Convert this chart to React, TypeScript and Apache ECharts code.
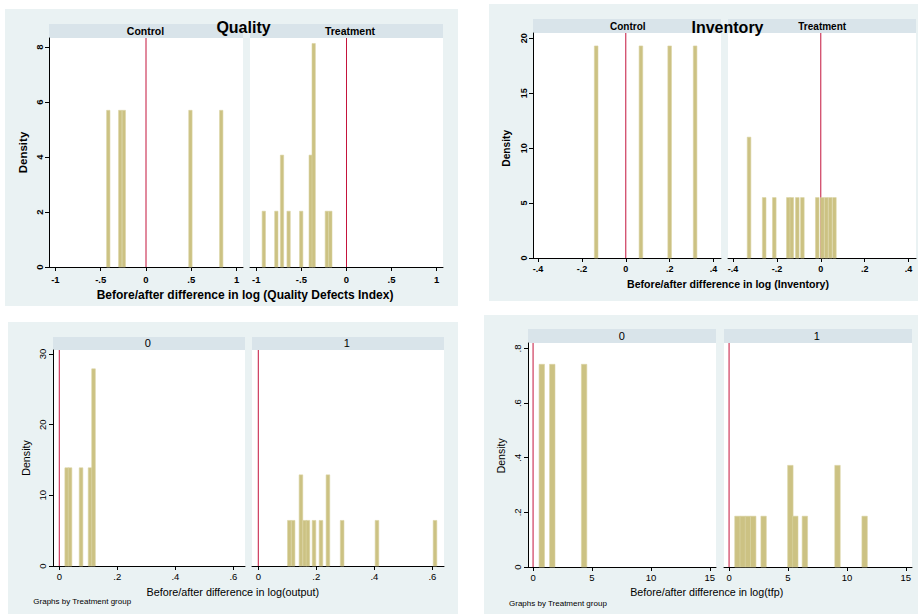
import React, { useEffect, useRef } from "react";
import * as echarts from "echarts";

// ---------- data ----------
// Quality: before/after difference in log (Quality Defects Index)
const qualityControlX = [-0.416, -0.284, -0.245, 0.49, 0.83];
const qualityControlY = [5.7, 5.7, 5.7, 5.7, 5.7];
const qualityTreatX = [-0.917, -0.778, -0.715, -0.642, -0.502, -0.397, -0.364, -0.218, -0.179];
const qualityTreatY = [2.03, 2.03, 4.07, 2.03, 2.03, 4.07, 8.13, 2.03, 2.03];
const qualityTicksX = [-1, -0.5, 0, 0.5, 1];
const qualityTicksY = [0, 2, 4, 6, 8];

// Inventory
const inventoryControlX = [-0.135, 0.069, 0.2, 0.316];
const inventoryControlY = [19.3, 19.3, 19.3, 19.3];
const inventoryTreatX = [-0.327, -0.258, -0.212, -0.148, -0.132, -0.107, -0.084, -0.016, 0.007, 0.025, 0.043, 0.062];
const inventoryTreatY = [11.0, 5.5, 5.5, 5.5, 5.5, 5.5, 5.5, 5.5, 5.5, 5.5, 5.5, 5.5];
const inventoryTicksX = [-0.4, -0.2, 0, 0.2, 0.4];
const inventoryTicksY = [0, 5, 10, 15, 20];

// Output
const outputControlX = [0.0255, 0.037, 0.075, 0.106, 0.118];
const outputControlY = [13.9, 13.9, 13.9, 13.9, 27.9];
const outputTreatX = [0.107, 0.12, 0.147, 0.16, 0.171, 0.192, 0.216, 0.24, 0.289, 0.409, 0.609];
const outputTreatY = [6.45, 6.45, 12.9, 6.45, 6.45, 6.45, 6.45, 12.9, 6.45, 6.45, 6.45];
const outputTicksX = [0, 0.2, 0.4, 0.6];
const outputTicksY = [0, 10, 20, 30];

// TFP
const tfpControlX = [0.74, 1.63, 4.33];
const tfpControlY = [0.742, 0.742, 0.742];
const tfpTreatX = [0.71, 1.16, 1.6, 2.05, 2.93, 5.2, 5.62, 6.43, 9.2, 11.5];
const tfpTreatY = [0.186, 0.186, 0.186, 0.186, 0.186, 0.372, 0.186, 0.186, 0.372, 0.186];
const tfpTicksX = [0, 5, 10, 15];
const tfpTicksY = [0, 0.2, 0.4, 0.6, 0.8];

const stripLabelsNamed = ["Control", "Treatment"];
const stripLabelsCoded = ["0", "1"];
const referenceX = 0;

// ---------- styles ----------
const FONT = '"Liberation Sans", Arial, Helvetica, sans-serif';
const PANEL_BG = "#eaf2f3";
const STRIP_BG = "#d9e4ea";
const BAR_FILL = "#ccc283";
const BAR_STROKE = "#dad3a2";
const RED = "#c4143c";

const stataFmt = (v: number) => {
  if (Math.abs(v) < 1e-9) return "0";
  const s = String(+v.toFixed(4));
  return s.replace(/^(-?)0\./, "$1.");
};

type Sub = { left: number; width: number; x: number[]; y: number[]; label: string; lx: number };
type Panel = {
  bg: [number, number, number, number];
  top: number;
  height: number;
  stripTop: number;
  stripH: number;
  stripY: number;
  subs: Sub[];
  xMin: number;
  xMax: number;
  xTicks: number[];
  yMax: number;
  yTicks: number[];
  binW: number;
  bold: boolean;
  tickSize: number;
  stripSize: number;
  yLabelMargin: number;
  xLabelMargin: number;
  title?: { text: string; x: number; y: number };
  xTitle: { text: string; x: number; y: number; size: number };
  density: { x: number; y: number; size: number };
  graphsBy?: { x: number; y: number };
};

const panels: Panel[] = [
  {
    bg: [5, 9, 453, 297],
    top: 38,
    height: 229,
    stripTop: 24,
    stripH: 14,
    stripY: 31,
    subs: [
      { left: 49, width: 194, x: qualityControlX, y: qualityControlY, label: stripLabelsNamed[0], lx: 145.5 },
      { left: 250, width: 193, x: qualityTreatX, y: qualityTreatY, label: stripLabelsNamed[1], lx: 350 },
    ],
    xMin: -1.07,
    xMax: 1.07,
    xTicks: qualityTicksX,
    yMax: 8.33,
    yTicks: qualityTicksY,
    binW: 0.037,
    bold: true,
    tickSize: 9.5,
    stripSize: 10.5,
    yLabelMargin: 5,
    xLabelMargin: 7,
    title: { text: "Quality", x: 243.5, y: 27.5 },
    xTitle: { text: "Before/after difference in log (Quality Defects Index)", x: 245, y: 295, size: 12 },
    density: { x: 23, y: 152.5, size: 11.5 },
  },
  {
    bg: [489, 4, 429, 297],
    top: 33,
    height: 225,
    stripTop: 19,
    stripH: 14,
    stripY: 26,
    subs: [
      { left: 533, width: 188, x: inventoryControlX, y: inventoryControlY, label: stripLabelsNamed[0], lx: 627.8 },
      { left: 728, width: 188, x: inventoryTreatX, y: inventoryTreatY, label: stripLabelsNamed[1], lx: 822.2 },
    ],
    xMin: -0.423,
    xMax: 0.434,
    xTicks: inventoryTicksX,
    yMax: 20.48,
    yTicks: inventoryTicksY,
    binW: 0.0165,
    bold: true,
    tickSize: 9,
    stripSize: 10,
    yLabelMargin: 5,
    xLabelMargin: 6,
    title: { text: "Inventory", x: 727.5, y: 27.5 },
    xTitle: { text: "Before/after difference in log (Inventory)", x: 728, y: 284.3, size: 10.6 },
    density: { x: 506.7, y: 148.3, size: 10.2 },
  },
  {
    bg: [8, 322, 450, 292],
    top: 350,
    height: 216,
    stripTop: 337,
    stripH: 13,
    stripY: 342.5,
    subs: [
      { left: 53, width: 192, x: outputControlX, y: outputControlY, label: stripLabelsCoded[0], lx: 147.7 },
      { left: 252, width: 192, x: outputTreatX, y: outputTreatY, label: stripLabelsCoded[1], lx: 346.7 },
    ],
    xMin: -0.0217,
    xMax: 0.64,
    xTicks: outputTicksX,
    yMax: 30.57,
    yTicks: outputTicksY,
    binW: 0.0125,
    bold: false,
    tickSize: 9.5,
    stripSize: 11,
    yLabelMargin: 6,
    xLabelMargin: 5,
    xTitle: { text: "Before/after difference in log(output)", x: 232.8, y: 591.7, size: 10.8 },
    density: { x: 26, y: 458, size: 10.7 },
    graphsBy: { x: 33.3, y: 601.7 },
  },
  {
    bg: [484, 315, 434, 299],
    top: 343,
    height: 224,
    stripTop: 329,
    stripH: 14,
    stripY: 336,
    subs: [
      { left: 528, width: 188, x: tfpControlX, y: tfpControlY, label: stripLabelsCoded[0], lx: 621.7 },
      { left: 724, width: 188, x: tfpTreatX, y: tfpTreatY, label: stripLabelsCoded[1], lx: 816.7 },
    ],
    xMin: -0.43,
    xMax: 15.52,
    xTicks: tfpTicksX,
    yMax: 0.82,
    yTicks: tfpTicksY,
    binW: 0.46,
    bold: false,
    tickSize: 9.5,
    stripSize: 11,
    yLabelMargin: 6,
    xLabelMargin: 5,
    xTitle: { text: "Before/after difference in log(tfp)", x: 706.7, y: 591.7, size: 10.7 },
    density: { x: 500.7, y: 455.8, size: 10.5 },
    graphsBy: { x: 509, y: 603.3 },
  },
];

function textEl(text: string, x: number, y: number, size: number, bold: boolean, opts: any = {}) {
  return {
    type: "text",
    x,
    y,
    rotation: opts.rotation || 0,
    z: 20,
    silent: true,
    style: {
      text,
      fill: "#000",
      fontFamily: FONT,
      fontSize: size,
      fontWeight: bold ? "bold" : "normal",
      align: opts.align || "center",
      verticalAlign: "middle",
      textAlign: opts.align || "center",
      textVerticalAlign: "middle",
    },
  };
}

function buildOption() {
  const grid: any[] = [];
  const xAxis: any[] = [];
  const yAxis: any[] = [];
  const series: any[] = [];
  const graphic: any[] = [];

  panels.forEach((p) => {
    graphic.push({
      type: "rect",
      z: 0,
      silent: true,
      shape: { x: p.bg[0], y: p.bg[1], width: p.bg[2], height: p.bg[3] },
      style: { fill: PANEL_BG },
    });
    p.subs.forEach((s, k) => {
      const gi = grid.length;
      graphic.push({
        type: "rect",
        z: 1,
        silent: true,
        shape: { x: s.left, y: p.stripTop, width: s.width, height: p.stripH },
        style: { fill: STRIP_BG },
      });
      graphic.push({
        type: "rect",
        z: 1,
        silent: true,
        shape: { x: s.left, y: p.top, width: s.width, height: p.height },
        style: { fill: "#ffffff" },
      });
      graphic.push(textEl(s.label, s.lx, p.stripY, p.stripSize, p.bold));

      grid.push({ left: s.left, top: p.top, width: s.width, height: p.height, show: false, containLabel: false });
      xAxis.push({
        type: "value",
        gridIndex: gi,
        min: p.xMin,
        max: p.xMax,
        z: 5,
        axisLine: { show: true, onZero: false, lineStyle: { color: "#000", width: 1 } },
        axisTick: { show: true, length: 4, inside: false, customValues: p.xTicks, lineStyle: { color: "#000", width: 1 } },
        axisLabel: {
          customValues: p.xTicks,
          formatter: stataFmt,
          color: "#000",
          fontFamily: FONT,
          fontSize: p.tickSize,
          fontWeight: p.bold ? "bold" : "normal",
          margin: p.xLabelMargin,
          showMinLabel: true,
          showMaxLabel: true,
        },
        splitLine: { show: false },
      });
      yAxis.push({
        type: "value",
        gridIndex: gi,
        min: 0,
        max: p.yMax,
        show: k === 0,
        z: 5,
        axisLine: { show: true, onZero: false, lineStyle: { color: "#000", width: 1 } },
        axisTick: { show: true, length: 4, inside: false, customValues: p.yTicks, lineStyle: { color: "#000", width: 1 } },
        axisLabel: {
          customValues: p.yTicks,
          formatter: stataFmt,
          rotate: 90,
          color: "#000",
          fontFamily: FONT,
          fontSize: p.tickSize,
          fontWeight: p.bold ? "bold" : "normal",
          margin: p.yLabelMargin,
        },
        splitLine: { show: false },
      });
      series.push({
        type: "line",
        xAxisIndex: gi,
        yAxisIndex: gi,
        data: [
          [referenceX, 0],
          [referenceX, p.yMax],
        ],
        symbol: "none",
        silent: true,
        z: 5,
        lineStyle: { color: RED, width: 1 },
      });
      const w = p.binW;
      series.push({
        type: "custom",
        xAxisIndex: gi,
        yAxisIndex: gi,
        z: 6,
        silent: true,
        data: s.x.map((v, i) => [v, s.y[i]]),
        encode: { x: 0, y: 1 },
        renderItem: (params: any, api: any) => {
          const cx = api.value(0);
          const h = api.value(1);
          const p0 = api.coord([cx - w / 2, 0]);
          const p1 = api.coord([cx + w / 2, h]);
          return {
            type: "rect",
            shape: { x: p0[0], y: p1[1], width: p1[0] - p0[0], height: p0[1] - p1[1] },
            style: { fill: BAR_FILL, stroke: BAR_STROKE, lineWidth: 0.6 },
          };
        },
      });
    });

    if (p.title) graphic.push(textEl(p.title.text, p.title.x, p.title.y, 16, true));
    graphic.push(textEl(p.xTitle.text, p.xTitle.x, p.xTitle.y, p.xTitle.size, p.bold));
    graphic.push(textEl("Density", p.density.x, p.density.y, p.density.size, p.bold, { rotation: Math.PI / 2 }));
    if (p.graphsBy) graphic.push(textEl("Graphs by Treatment group", p.graphsBy.x, p.graphsBy.y, 8, false, { align: "left" }));
  });

  return {
    animation: false,
    backgroundColor: "#ffffff",
    textStyle: { fontFamily: FONT },
    grid,
    xAxis,
    yAxis,
    series,
    graphic,
  };
}

export default function App() {
  const ref = useRef<HTMLDivElement>(null);
  useEffect(() => {
    if (!ref.current) return;
    const chart = echarts.init(ref.current, undefined, { renderer: "svg" });
    chart.setOption(buildOption() as any);
    return () => chart.dispose();
  }, []);
  return (
    <div
      ref={ref}
      style={{ position: "fixed", left: 0, top: 0, width: 918, height: 614, background: "#fff" }}
    />
  );
}
